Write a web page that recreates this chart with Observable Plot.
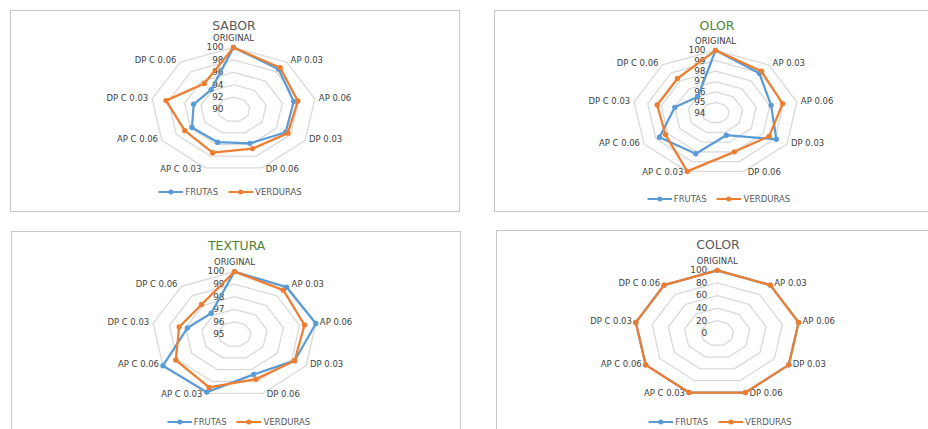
<!DOCTYPE html>
<html>
<head>
<meta charset="utf-8">
<script src="https://cdn.jsdelivr.net/npm/d3@7"></script>
<script src="https://cdn.jsdelivr.net/npm/@observablehq/plot@0.6"></script>
<style>
html, body { margin: 0; padding: 0; background: #fff; width: 928px; height: 429px; overflow: hidden; font-family: "DejaVu Sans", sans-serif; }
#page { position: relative; width: 928px; height: 429px; overflow: hidden; }
.panel { position: absolute; box-sizing: border-box; border: 1px solid #c8c8c8; width: 450px; height: 202px; background: #fff; }
.panel svg.plot { position: absolute; left: 0; top: 0; overflow: visible; }
.title { position: absolute; transform: translate(-50%, -50%); font-size: 12.5px; white-space: nowrap; }
.legend { position: absolute; transform: translate(-50%, -50%); display: flex; align-items: center; font-size: 8.5px; color: #595959; white-space: nowrap; }
.legend .item { display: flex; align-items: center; margin: 0 5px; }
.legend .item svg { margin-right: 2px; }
</style>
</head>
<body>
<div id="page"></div>
<script>
// ---- data ----
const categories = ["ORIGINAL", "AP 0.03", "AP 0.06", "DP 0.03", "DP 0.06", "AP C 0.03", "AP C 0.06", "DP C 0.03", "DP C 0.06"];
const seriesNames = ["FRUTAS", "VERDURAS"];

const saborTicks = [90, 92, 94, 96, 98, 100];
const saborFrutas = [100, 98.5, 97.4, 97.3, 95.8, 95.6, 95.8, 94.9, 94.2];
const saborVerduras = [100, 98.8, 97.9, 97.6, 96.7, 97.4, 96.8, 98.3, 95.5];

const olorTicks = [94, 95, 96, 97, 98, 99, 100];
const olorFrutas = [100, 98.95, 98.1, 99.1, 96.3, 98.2, 98.7, 97.0, 96.0];
const olorVerduras = [100, 99.2, 98.95, 98.5, 98.0, 100, 98.2, 98.3, 98.3];

const texturaTicks = [95, 96, 97, 98, 99, 100];
const texturaFrutas = [100, 99.9, 100, 99.2, 98.4, 99.9, 100, 97.9, 97.2];
const texturaVerduras = [100, 99.6, 99.3, 99.2, 98.8, 99.5, 99.1, 98.4, 98.1];

const colorTicks = [0, 20, 40, 60, 80, 100];
const colorFrutas = [100, 100, 100, 100, 100, 100, 100, 100, 100];
const colorVerduras = [100, 100, 100, 100, 100, 100, 100, 100, 100];

// ---- styles ----
const seriesColors = ["#5b9bd5", "#ed7d31"];
const grayTitle = "#595959";
const greenTitle = "#548235";

const panels = [
  {title: "SABOR", titleColor: grayTitle, ticks: saborTicks, values: [saborFrutas, saborVerduras],
   left: 10, top: 10, cx: 223, cy: 98.5, rx: 83, ry: 62.3, tx: 223, ty: 14, lx: 219, ly: 181},
  {title: "OLOR", titleColor: greenTitle, ticks: olorTicks, values: [olorFrutas, olorVerduras],
   left: 494, top: 10, cx: 221, cy: 101.7, rx: 83, ry: 62.7, tx: 222, ty: 14, lx: 223.5, ly: 188.3},
  {title: "TEXTURA", titleColor: greenTitle, ticks: texturaTicks, values: [texturaFrutas, texturaVerduras],
   left: 11, top: 231, cx: 223, cy: 102.3, rx: 83, ry: 63, tx: 224.7, ty: 13, lx: 226.5, ly: 189.7},
  {title: "COLOR", titleColor: grayTitle, ticks: colorTicks, values: [colorFrutas, colorVerduras],
   left: 496, top: 230, cx: 220.7, cy: 102.3, rx: 83, ry: 63.3, tx: 221, ty: 13, lx: 223, ly: 190.7}
];

const page = document.getElementById("page");
const n = categories.length;
const ang = i => i * 2 * Math.PI / n;
const catDy = [-9, -2, -1, -1, 1, 1, -1, -1, -2];

function makeRadar(p) {
  const min = p.ticks[0], max = p.ticks[p.ticks.length - 1];
  const norm = v => (v - min) / (max - min);

  const rings = [];
  p.ticks.slice(1).forEach(t => {
    for (let i = 0; i <= n; i++) {
      const a = ang(i % n);
      rings.push({t, x: norm(t) * Math.sin(a), y: norm(t) * Math.cos(a)});
    }
  });

  const seriesRows = seriesNames.map((s, k) => {
    const rows = [];
    for (let i = 0; i <= n; i++) {
      const v = p.values[k][i % n];
      const a = ang(i % n);
      rows.push({series: s, cat: categories[i % n], v, x: norm(v) * Math.sin(a), y: norm(v) * Math.cos(a), closing: i === n});
    }
    return rows;
  });

  const catRows = categories.map((c, i) => ({c, i, x: Math.sin(ang(i)), y: Math.cos(ang(i))}));
  const labelFill = "#404040";

  const marks = [
    Plot.line(rings, {x: "x", y: "y", z: "t", stroke: "#d9d9d9", strokeWidth: 1.3}),
    Plot.text(p.ticks, {x: () => 0, y: t => norm(t), text: t => String(t), textAnchor: "end", dx: -10, fontSize: 9, fill: labelFill}),
    Plot.text(catRows.filter(d => d.i === 0), {x: "x", y: "y", text: "c", textAnchor: "middle", dy: -9, fontSize: 8.5, fill: labelFill})
  ];
  catRows.filter(d => d.i > 0).forEach(d => {
    marks.push(Plot.text([d], {x: "x", y: "y", text: "c", textAnchor: d.i <= 4 ? "start" : "end", dx: d.i <= 4 ? 4 : -4, dy: catDy[d.i], fontSize: 8.5, fill: labelFill}));
  });

  seriesRows.forEach((rows, k) => {
    marks.push(Plot.line(rows, {x: "x", y: "y", stroke: seriesColors[k], strokeWidth: 2.25, strokeLinejoin: "round"}));
    marks.push(Plot.dot(rows.filter(d => !d.closing), {x: "x", y: "y", r: 2.7, fill: seriesColors[k], stroke: "none"}));
  });

  const svg = Plot.plot({
    width: 450, height: 200, margin: 0,
    style: {fontFamily: "DejaVu Sans", background: "transparent", overflow: "visible"},
    x: {domain: [-1, 1], range: [p.cx - p.rx, p.cx + p.rx], axis: null},
    y: {domain: [-1, 1], range: [p.cy + p.ry, p.cy - p.ry], axis: null},
    marks
  });
  svg.classList.add("plot");
  return svg;
}

panels.forEach(p => {
  const div = document.createElement("div");
  div.className = "panel";
  div.style.left = p.left + "px";
  div.style.top = p.top + "px";
  div.appendChild(makeRadar(p));

  const title = document.createElement("div");
  title.className = "title";
  title.textContent = p.title;
  title.style.color = p.titleColor;
  title.style.left = p.tx + "px";
  title.style.top = p.ty + "px";
  div.appendChild(title);

  const legend = document.createElement("div");
  legend.className = "legend";
  legend.style.left = p.lx + "px";
  legend.style.top = p.ly + "px";
  seriesNames.forEach((s, k) => {
    const item = document.createElement("div");
    item.className = "item";
    item.innerHTML = `<svg width="25" height="8"><line x1="0" x2="25" y1="4" y2="4" stroke="${seriesColors[k]}" stroke-width="2"/><circle cx="12.5" cy="4" r="2.5" fill="${seriesColors[k]}"/></svg><span>${s}</span>`;
    legend.appendChild(item);
  });
  div.appendChild(legend);

  page.appendChild(div);
});
</script>
</body>
</html>
